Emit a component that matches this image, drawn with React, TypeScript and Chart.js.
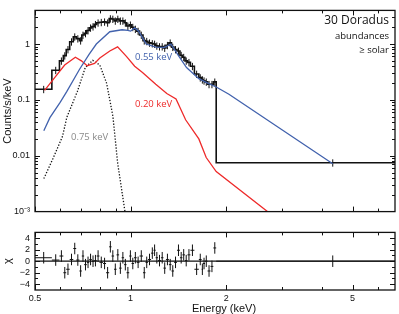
import React, { useEffect, useRef } from "react";
import { Chart, registerables } from "chart.js";
Chart.register(...registerables);

// ---------------- data ----------------
// spectral bins (keV edges), observed counts/s/keV, residuals (chi)
const binEdges = [0.5, 0.565, 0.597, 0.614, 0.627, 0.643, 0.66, 0.674, 0.69, 0.702, 0.714, 0.728, 0.741, 0.755, 0.768, 0.782, 0.798, 0.819, 0.837, 0.856, 0.871, 0.887, 0.903, 0.92, 0.937, 0.954, 0.971, 0.99, 1.007, 1.025, 1.045, 1.067, 1.094, 1.114, 1.134, 1.16, 1.181, 1.199, 1.22, 1.246, 1.269, 1.292, 1.32, 1.345, 1.37, 1.4, 1.43, 1.456, 1.483, 1.51, 1.543, 1.588, 1.64, 1.674, 1.691, 1.715, 1.747, 1.785, 1.822, 1.86, 6.8];
const counts = [0.155, 0.34, 0.5, 0.62, 0.8, 1.1, 1.35, 1.25, 1.15, 1.45, 1.55, 1.75, 1.95, 2.05, 2.25, 2.4, 2.45, 2.5, 2.4, 2.85, 2.8, 2.6, 2.8, 2.6, 2.6, 2.4, 2.1, 2.2, 2.0, 1.85, 1.7, 1.45, 1.15, 1.12, 1.05, 1.02, 1.0, 0.93, 0.9, 0.9, 0.85, 0.95, 1.05, 0.88, 0.8, 0.75, 0.63, 0.58, 0.5, 0.47, 0.4, 0.29, 0.25, 0.23, 0.22, 0.21, 0.19, 0.19, 0.21, 0.0075];
const residuals = [0.6, 0.2, 0.9, -2.0, -1.4, 0.3, 2.2, 0.2, -1.7, 0.9, -0.6, -0.2, 0.3, 0, 0.1, 0.9, -0.2, -0.4, -2.0, 2.5, 0.9, -1.4, 1.1, -1.2, 0.6, -0.6, -2.0, 0.9, -0.4, 0.6, -0.2, 0.9, -2.0, -0.2, 0.3, 1.4, 1.9, 0.6, 0.1, 0.6, -1.2, 0.3, -0.6, -1.7, -0.2, 1.9, 0.6, 1.1, 0.1, 1.1, 1.9, -1.4, 0.3, -1.4, -0.4, 0, -1.7, -0.9, 2.3, 0];
const countRelErr = 0.15;
const residErr = 1;

// model components
const blueE = [0.533, 0.557, 0.6, 0.63, 0.69, 0.74, 0.78, 0.86, 0.94, 0.98, 1.0, 1.03, 1.06, 1.12, 1.2, 1.28, 1.34, 1.42, 1.5, 1.64, 1.75, 1.86, 2.04, 4.33];
const blueY = [0.028, 0.048, 0.09, 0.142, 0.35, 0.65, 1.0, 1.66, 1.8, 1.75, 1.7, 1.94, 1.7, 1.0, 0.88, 0.87, 1.0, 0.6, 0.38, 0.24, 0.2, 0.17, 0.126, 0.0072];
const redE = [0.536, 0.58, 0.62, 0.67, 0.7, 0.73, 0.77, 0.8, 0.86, 0.91, 0.97, 1.03, 1.09, 1.2, 1.3, 1.39, 1.49, 1.64, 1.73, 1.86, 2.8];
const redY = [0.148, 0.26, 0.42, 0.58, 0.5, 0.41, 0.45, 0.56, 0.75, 0.89, 0.6, 0.4, 0.31, 0.19, 0.13, 0.104, 0.044, 0.02, 0.0093, 0.0052, 0.00085];
const dotE = [0.533, 0.57, 0.61, 0.63, 0.68, 0.72, 0.76, 0.8, 0.84, 0.86, 0.88, 0.91, 0.96, 0.98];
const dotY = [0.0039, 0.009, 0.022, 0.049, 0.142, 0.38, 0.51, 0.42, 0.2, 0.1, 0.05, 0.0075, 0.001, 0.0005];

// axes
const X_MIN = 0.5, X_MAX = 6.8;
const Y_MIN = 0.001, Y_MAX = 4;
const R_MIN = -5, R_MAX = 5;
const xTicks = [0.5, 1, 2, 5];
const xTickLabels = ["0.5", "1", "2", "5"];
const xMinor = [0.6, 0.7, 0.8, 0.9, 3, 4, 6];
const yTicks = [0.001, 0.01, 0.1, 1];
const yTickLabels = ["10\u207B\u00B3", "0.01", "0.1", "1"];
const yMinor = [0.002, 0.003, 0.004, 0.005, 0.006, 0.007, 0.008, 0.009, 0.02, 0.03, 0.04, 0.05, 0.06, 0.07, 0.08, 0.09, 0.2, 0.3, 0.4, 0.5, 0.6, 0.7, 0.8, 0.9, 2, 3, 4];
const rTicks = [-4, -2, 0, 2, 4];
const rTickLabels = ["\u22124", "\u22122", "0", "2", "4"];
const rMinor = [-3, -1, 1, 3];

const BLUE = "#4262ad";
const RED = "#ee2b2b";
const INK = "#111111";
const TICK_FONT = { family: "'Liberation Sans', Arial, sans-serif", size: 9 };

// ---------------- helpers ----------------
const nBins = Math.min(counts.length, binEdges.length - 1);
const centers = Array.from({ length: nBins }, (_, i) => (binEdges[i] + binEdges[i + 1]) / 2);

const stepPts = counts.slice(0, nBins).flatMap((v, i) => [
  { x: binEdges[i], y: v },
  { x: binEdges[i + 1], y: v },
]);
const countErrPts = counts.slice(0, nBins).flatMap((v, i) => [
  { x: centers[i], y: v * (1 - countRelErr) },
  { x: centers[i], y: v * (1 + countRelErr) },
  { x: centers[i], y: null },
]);
const residH = residuals.slice(0, nBins).flatMap((r, i) => [
  { x: binEdges[i], y: r },
  { x: binEdges[i + 1], y: r },
  { x: binEdges[i + 1], y: null },
]);
const residV = residuals.slice(0, nBins).flatMap((r, i) => [
  { x: centers[i], y: r - residErr },
  { x: centers[i], y: r + residErr },
  { x: centers[i], y: null },
]);
const pairs = (xs: number[], ys: number[]) => xs.map((x, i) => ({ x, y: ys[i] }));

function framePlugin(xMaj: number[], xMin: number[], yMaj: number[], yMin: number[]) {
  return {
    id: "frameTicks",
    afterDatasetsDraw(chart: any) {
      const { ctx, chartArea } = chart;
      const { left, right, top, bottom } = chartArea;
      const xs = chart.scales.x;
      const ys = chart.scales.y;
      ctx.save();
      ctx.strokeStyle = INK;
      ctx.lineWidth = 1;
      ctx.beginPath();
      const vt = (v: number, len: number) => {
        const p = Math.round(xs.getPixelForValue(v)) + 0.5;
        if (p < left || p > right) return;
        ctx.moveTo(p, bottom);
        ctx.lineTo(p, bottom - len);
        ctx.moveTo(p, top);
        ctx.lineTo(p, top + len);
      };
      const ht = (v: number, len: number) => {
        const p = Math.round(ys.getPixelForValue(v)) + 0.5;
        if (p < top || p > bottom) return;
        ctx.moveTo(left, p);
        ctx.lineTo(left + len, p);
        ctx.moveTo(right, p);
        ctx.lineTo(right - len, p);
      };
      xMaj.forEach((v) => vt(v, 5));
      xMin.forEach((v) => vt(v, 3));
      yMaj.forEach((v) => ht(v, 5));
      yMin.forEach((v) => ht(v, 3));
      ctx.stroke();
      ctx.lineWidth = 1.3;
      ctx.strokeRect(left, top, right - left, bottom - top);
      ctx.restore();
    },
  };
}

const topLabels = {
  id: "topLabels",
  afterDraw(chart: any) {
    const { ctx, chartArea } = chart;
    ctx.save();
    ctx.textBaseline = "middle";
    ctx.textAlign = "right";
    ctx.fillStyle = INK;
    ctx.font = "12px 'Open Sans'";
    ctx.fillText("30 Doradus", chartArea.right - 6, 21);
    ctx.font = "9.5px 'Open Sans'";
    ctx.fillText("abundances", chartArea.right - 6, 36);
    ctx.fillText("\u2265 solar", chartArea.right - 6, 50);
    ctx.textAlign = "left";
    ctx.fillStyle = BLUE;
    ctx.fillText("0.55 keV", 135, 57);
    ctx.fillStyle = RED;
    ctx.fillText("0.20 keV", 135, 104);
    ctx.fillStyle = "#8a8a8a";
    ctx.fillText("0.75 keV", 71, 137);
    ctx.restore();
  },
};

const bottomTitle = {
  id: "bottomTitle",
  afterDraw(chart: any) {
    const { ctx } = chart;
    ctx.save();
    ctx.fillStyle = INK;
    ctx.font = "11px 'Liberation Sans', Arial, sans-serif";
    ctx.textAlign = "center";
    ctx.textBaseline = "alphabetic";
    ctx.fillText("Energy (keV)", 224, 90);
    ctx.restore();
  },
};

const line = (data: any[], color: string, width: number, order: number, extra: any = {}) => ({
  data,
  borderColor: color,
  backgroundColor: color,
  borderWidth: width,
  pointRadius: 0,
  tension: 0,
  fill: false,
  spanGaps: false,
  order,
  ...extra,
});

export default function App() {
  const topRef = useRef<HTMLCanvasElement>(null);
  const botRef = useRef<HTMLCanvasElement>(null);

  useEffect(() => {
    document.body.style.margin = "0";
    const top = new Chart(topRef.current as HTMLCanvasElement, {
      type: "line",
      data: {
        datasets: [
          line(pairs(blueE, blueY), BLUE, 1.3, 0),
          line(pairs(redE, redY), RED, 1.3, 0),
          line(pairs(dotE, dotY), INK, 1.3, 0, { borderDash: [1.3, 1.7] }),
          line(countErrPts, INK, 1, 1),
          line(stepPts, INK, 1.6, 2),
        ],
      },
      options: {
        responsive: false,
        animation: false,
        events: [],
        layout: { padding: { left: 0, right: 4, top: 4, bottom: 3 } },
        plugins: { legend: { display: false }, tooltip: { enabled: false } },
        scales: {
          x: { type: "logarithmic", min: X_MIN, max: X_MAX, display: false },
          y: {
            type: "logarithmic",
            min: Y_MIN,
            max: Y_MAX,
            afterFit: (s: any) => { s.width = 35; },
            afterBuildTicks: (s: any) => { s.ticks = yTicks.map((v) => ({ value: v })); },
            ticks: {
              autoSkip: false,
              padding: 5,
              color: INK,
              font: TICK_FONT,
              callback: (v: any) => { const i = yTicks.indexOf(Number(v)); return i >= 0 ? yTickLabels[i] : ""; },
            },
            grid: { display: false, drawTicks: false },
            border: { display: false },
            title: { display: true, text: "Counts/s/keV", color: INK, padding: { top: 1, bottom: 0 }, font: { family: "'Liberation Sans', Arial, sans-serif", size: 11 } },
          },
        },
      } as any,
      plugins: [framePlugin(xTicks, xMinor, yTicks, yMinor), topLabels],
    });

    const bot = new Chart(botRef.current as HTMLCanvasElement, {
      type: "line",
      data: {
        datasets: [
          line(residV, INK, 1, 0),
          line(residH, INK, 1, 0),
          line([{ x: X_MIN, y: 0 }, { x: X_MAX, y: 0 }], INK, 1.3, 1),
        ],
      },
      options: {
        responsive: false,
        animation: false,
        events: [],
        layout: { padding: { left: 0, right: 4, top: 5, bottom: 0 } },
        plugins: { legend: { display: false }, tooltip: { enabled: false } },
        scales: {
          x: {
            type: "logarithmic",
            min: X_MIN,
            max: X_MAX,
            afterFit: (s: any) => { s.height = 24; },
            afterBuildTicks: (s: any) => { s.ticks = xTicks.map((v) => ({ value: v })); },
            ticks: {
              autoSkip: false,
              maxRotation: 0,
              padding: 3,
              color: INK,
              font: TICK_FONT,
              callback: (v: any) => { const i = xTicks.indexOf(Number(v)); return i >= 0 ? xTickLabels[i] : ""; },
            },
            grid: { display: false, drawTicks: false },
            border: { display: false },
          },
          y: {
            type: "linear",
            min: R_MIN,
            max: R_MAX,
            afterFit: (s: any) => { s.width = 35; },
            afterBuildTicks: (s: any) => { s.ticks = rTicks.map((v) => ({ value: v })); },
            ticks: {
              autoSkip: false,
              padding: 5,
              color: INK,
              font: TICK_FONT,
              callback: (v: any) => { const i = rTicks.indexOf(Number(v)); return i >= 0 ? rTickLabels[i] : ""; },
            },
            grid: { display: false, drawTicks: false },
            border: { display: false },
            title: { display: true, text: "\u03C7", color: INK, padding: { top: 1, bottom: 0 }, font: { family: "'Liberation Sans', Arial, sans-serif", size: 11 } },
          },
        },
      } as any,
      plugins: [framePlugin(xTicks, xMinor, rTicks, rMinor), bottomTitle],
    });

    return () => {
      top.destroy();
      bot.destroy();
    };
  }, []);

  return (
    <div style={{ position: "relative", width: 399, height: 314, background: "#fff" }}>
      <canvas ref={topRef} width={399} height={222} style={{ position: "absolute", left: 0, top: 0, display: "block" }} />
      <canvas ref={botRef} width={399} height={92} style={{ position: "absolute", left: 0, top: 222, display: "block" }} />
    </div>
  );
}
